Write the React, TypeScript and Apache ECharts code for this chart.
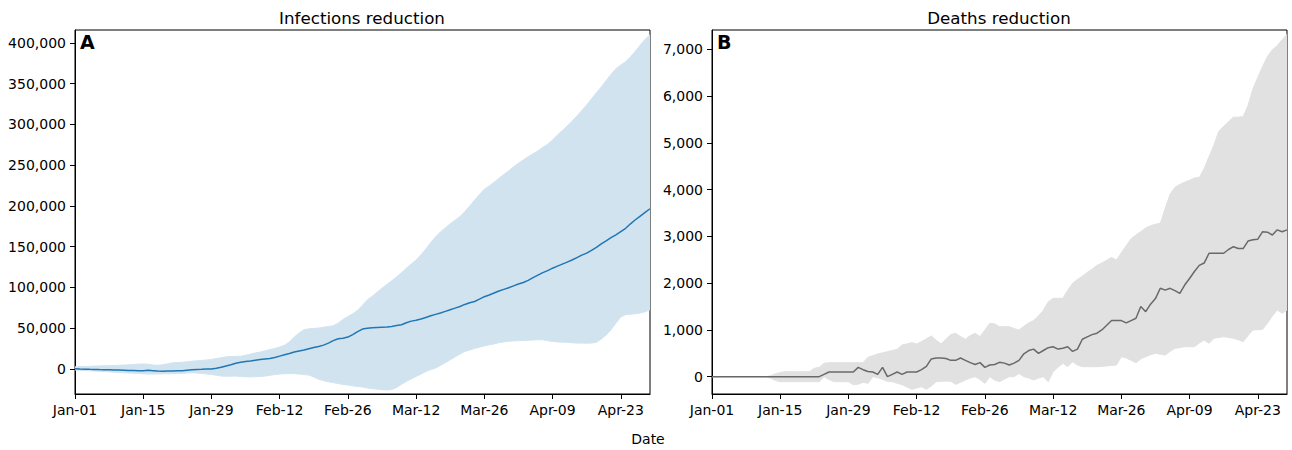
import React, { useEffect, useRef } from "react";
import * as echarts from "echarts";

// ---- categories (non-leap year, Jan-01 .. Apr-29) ----
const MONTH_NAMES = ["Jan", "Feb", "Mar", "Apr"];
const MONTH_LENGTHS = [31, 28, 31, 30];
const N_DAYS = 119;
const dates: string[] = [];
for (let m = 0; m < MONTH_NAMES.length && dates.length < N_DAYS; m++) {
  for (let d = 1; d <= MONTH_LENGTHS[m] && dates.length < N_DAYS; d++) {
    dates.push(`${MONTH_NAMES[m]}-${String(d).padStart(2, "0")}`);
  }
}

// ---- tick labels ----
const infTicks = [0, 50000, 100000, 150000, 200000, 250000, 300000, 350000, 400000];
const deathTicks = [0, 1000, 2000, 3000, 4000, 5000, 6000, 7000];

// ---- Infections reduction (thousands) ----
const infMeanK = [
  0, -0.3, -0.5, -0.7, -0.8, -1.0, -1.1, -1.3, -1.5, -1.6,
  -1.8, -2.0, -2.2, -2.5, -2.3, -1.8, -2.3, -2.9, -3.0, -2.9,
  -2.8, -2.6, -2.4, -1.8, -1.2, -0.9, -0.7, -0.4, -0.2, 0.5,
  1.8, 3.5, 5.0, 6.8, 8.0, 9.0, 9.6, 10.5, 11.3, 12.0,
  12.6, 13.8, 15.5, 17.2, 18.8, 20.5, 21.8, 23.0, 24.5, 26.0,
  27.4, 29.0, 31.5, 34.5, 36.8, 37.5, 38.9, 42.0, 45.5, 48.7,
  49.8, 50.4, 50.7, 51.0, 51.2, 52.0, 53.0, 54.0, 56.5, 58.5,
  59.5, 61.0, 63.0, 65.0, 66.8, 68.5, 70.5, 72.5, 74.5, 76.5,
  79.0, 81.0, 82.6, 85.5, 88.5, 90.5, 93.0, 95.5, 97.5, 99.5,
  101.8, 104.0, 105.9, 108.5, 112.0, 115.0, 118.0, 120.5, 123.5, 126.0,
  128.5, 131.0, 133.5, 136.5, 139.5, 142.0, 145.5, 149.0, 153.4, 157.0,
  161.0, 164.5, 168.5, 172.5, 178.0, 183.0, 187.5, 192.0, 196.5,
];
const infUpperK = [
  2.4, 2.6, 2.8, 3.0, 3.3, 3.5, 3.6, 3.8, 4.0, 4.3,
  4.5, 4.8, 5.2, 5.7, 5.9, 5.6, 4.5, 4.2, 5.0, 6.0,
  7.3, 7.6, 8.0, 8.5, 9.3, 9.8, 10.2, 10.8, 11.4, 12.5,
  13.5, 14.6, 15.0, 15.2, 15.4, 16.5, 18.0, 19.5, 20.5, 22.0,
  23.6, 25.0, 26.8, 28.9, 33.0, 39.0, 44.0, 48.0, 49.0, 49.5,
  50.0, 51.0, 52.0, 52.8, 56.0, 60.5, 64.2, 67.5, 72.0, 78.0,
  84.6, 89.0, 94.0, 99.0, 103.5, 108.0, 113.0, 118.0, 123.5, 128.5,
  133.7, 140.0, 147.0, 155.0, 162.0, 168.0, 173.0, 178.0, 182.5, 186.9,
  193.0, 200.0, 207.0, 214.0, 220.5, 224.5, 229.0, 234.0, 238.5, 243.0,
  248.0, 252.5, 256.5, 260.5, 264.0, 267.5, 272.0, 275.5, 281.0, 287.0,
  292.5, 298.0, 304.0, 310.5, 317.0, 324.0, 331.5, 339.0, 346.0, 354.0,
  361.5, 368.5, 373.0, 377.0, 383.0, 390.0, 397.5, 404.5, 410.0,
];
const infLowerK = [
  -1.6, -1.9, -2.2, -2.5, -2.8, -3.1, -3.4, -3.8, -4.2, -4.6,
  -4.9, -5.2, -5.5, -5.8, -6.2, -6.4, -6.5, -6.4, -6.3, -6.1,
  -6.0, -5.8, -5.5, -5.2, -4.9, -5.2, -5.8, -6.4, -7.0, -8.0,
  -9.0, -9.2, -9.1, -9.0, -9.5, -9.8, -10.0, -9.8, -9.5, -9.0,
  -8.0, -7.2, -6.5, -6.2, -6.0, -6.0, -6.5, -7.2, -7.7, -10.0,
  -13.0, -14.5, -16.0, -17.0, -18.2, -19.2, -20.0, -21.0, -21.8, -22.4,
  -23.7, -24.5, -25.0, -25.8, -26.0, -25.5, -23.0, -19.0, -15.5, -12.5,
  -9.4, -6.5, -3.5, -1.0, 0.8, 4.0, 7.5, 11.0, 14.5, 18.0,
  21.2, 23.0, 25.0, 26.5, 28.0, 29.4, 30.5, 32.0, 33.0, 33.8,
  34.2, 34.5, 34.7, 35.0, 35.3, 35.6, 35.5, 34.5, 33.5, 33.0,
  32.7, 32.5, 32.0, 31.5, 31.5, 31.4, 31.5, 32.5, 36.5, 41.5,
  48.0, 56.0, 63.5, 66.5, 67.0, 67.5, 68.5, 70.0, 72.4,
];

// ---- Deaths reduction ----
const deathMean = [
  0, 0, 0, 0, 0, 0, 0, 0, 0, 0,
  0, 0, 0, 0, 0, 0, 0, 0, 0, 0,
  0, 0, 0, 50, 100, 100, 100, 100, 100, 100,
  200, 150, 110, 100, 50, 200, 0, 50, 100, 50,
  100, 100, 100, 150, 220, 380, 400, 400, 390, 350,
  350, 400, 350, 300, 260, 300, 200, 250, 260, 307,
  290, 250, 290, 350, 490, 560, 590, 500, 560, 620,
  640, 590, 610, 640, 540, 590, 800, 850, 900, 930,
  1000, 1100, 1200, 1200, 1200, 1150, 1200, 1250, 1500, 1390,
  1550, 1670, 1890, 1850, 1890, 1840, 1780, 1960, 2100, 2250,
  2380, 2430, 2640, 2640, 2640, 2640, 2720, 2780, 2740, 2740,
  2900, 2930, 2940, 3100, 3090, 3030, 3140, 3100, 3140,
];
const deathUpper = [
  0, 0, 0, 0, 0, 0, 0, 0, 0, 0,
  0, 0, 20, 60, 90, 107, 107, 107, 107, 107,
  107, 180, 200, 286, 300, 300, 300, 300, 300, 300,
  300, 300, 414, 450, 486, 510, 536, 560, 586, 680,
  700, 729, 700, 750, 810, 871, 780, 700, 800, 900,
  929, 860, 800, 880, 929, 857, 1000, 1141, 1130, 1070,
  1070, 1070, 1030, 998, 1080, 1150, 1200, 1300, 1420, 1600,
  1675, 1675, 1675, 1850, 1996, 2080, 2150, 2230, 2300, 2380,
  2430, 2490, 2550, 2496, 2650, 2800, 2950, 3032, 3100, 3180,
  3230, 3260, 3281, 3600, 3900, 4050, 4110, 4160, 4200, 4250,
  4260, 4450, 4708, 4950, 5250, 5350, 5450, 5549, 5549, 5560,
  5800, 6150, 6400, 6633, 6850, 6990, 7080, 7204, 7320,
];
const deathLower = [
  0, 0, 0, 0, 0, 0, 0, 0, 0, 0,
  0, 0, -30, -80, -107, -107, -107, -107, -107, -107,
  -107, -107, -107, 0, -60, -107, -107, -107, -107, -170,
  -160, -120, -143, 0, -20, -60, -100, -107, -140, -170,
  -220, -271, -240, -214, -271, -200, -107, -100, -93, -100,
  -164, -120, -71, -30, 0, -60, -143, 0, -71, -107,
  -50, 0, 0, 71, 0, -30, -71, -30, 0, -107,
  107, 200, 285, 214, 321, 250, 214, 214, 214, 214,
  220, 230, 240, 250, 428, 400, 350, 300, 380, 428,
  470, 499, 480, 463, 540, 606, 620, 641, 641, 641,
  720, 784, 713, 820, 840, 856, 840, 820, 790, 749,
  880, 998, 1005, 1013, 1150, 1300, 1426, 1355, 1426,
];

const FONT = "DejaVu Sans";
const fmt = (v: number) => Math.round(v).toLocaleString("en-US");

function bandSeries(idx: number, lower: number[], upper: number[], color: string, key: string) {
  const diff = upper.map((u, i) => u - lower[i]);
  return [
    {
      type: "line", xAxisIndex: idx, yAxisIndex: idx, data: lower, stack: key,
      stackStrategy: "all", symbol: "none", silent: true,
      lineStyle: { color, width: 1 }, z: 1,
    },
    {
      type: "line", xAxisIndex: idx, yAxisIndex: idx, data: diff, stack: key,
      stackStrategy: "all", symbol: "none", silent: true,
      lineStyle: { color, width: 1 }, areaStyle: { color, opacity: 1 }, z: 1,
    },
  ];
}

function xAxisFor(i: number) {
  return {
    type: "category", gridIndex: i, data: dates, boundaryGap: false,
    axisLine: { show: true, onZero: false, lineStyle: { color: "#000", width: 1 } },
    axisTick: { show: true, interval: 13, length: 5, lineStyle: { color: "#000" } },
    axisLabel: { interval: 13, margin: 9, color: "#000", fontSize: 14, fontFamily: FONT },
    splitLine: { show: false },
  };
}

function yAxisFor(i: number, min: number, max: number, ticks: number[]) {
  return {
    type: "value", gridIndex: i, min, max,
    axisLine: { show: true, lineStyle: { color: "#000", width: 1 } },
    axisTick: { show: true, length: 5, customValues: ticks, lineStyle: { color: "#000" } },
    axisLabel: { customValues: ticks, formatter: fmt, margin: 9, color: "#000", fontSize: 14, fontFamily: FONT },
    splitLine: { show: false },
  };
}

export default function App() {
  const ref = useRef<HTMLDivElement>(null);
  useEffect(() => {
    if (!ref.current) return;
    const chart = echarts.init(ref.current, undefined, { renderer: "svg" });
    const infMean = infMeanK.map((v) => v * 1000);
    const infLower = infLowerK.map((v) => v * 1000);
    const infUpper = infUpperK.map((v) => v * 1000);
    const option: any = {
      animation: false,
      backgroundColor: "#fff",
      textStyle: { fontFamily: FONT },
      grid: [
        { left: 75, top: 30, width: 575, height: 364, show: true, borderColor: "#000", borderWidth: 1, containLabel: false },
        { left: 712, top: 30, width: 575, height: 364, show: true, borderColor: "#000", borderWidth: 1, containLabel: false },
      ],
      xAxis: [xAxisFor(0), xAxisFor(1)],
      yAxis: [
        yAxisFor(0, -31000, 416000, infTicks),
        yAxisFor(1, -370, 7413, deathTicks),
      ],
      series: [
        ...bandSeries(0, infLower, infUpper, "#d2e3f0", "infBand"),
        {
          type: "line", xAxisIndex: 0, yAxisIndex: 0, data: infMean, symbol: "none",
          lineStyle: { color: "#1f77b4", width: 1.5 }, z: 3,
        },
        ...bandSeries(1, deathLower, deathUpper, "#e1e1e1", "deathBand"),
        {
          type: "line", xAxisIndex: 1, yAxisIndex: 1, data: deathMean, symbol: "none",
          lineStyle: { color: "#696969", width: 1.5 }, z: 3,
        },
      ],
      graphic: [
        { type: "text", x: 362, y: 18, style: { text: "Infections reduction", fontSize: 16.7, fontFamily: FONT, fill: "#000", align: "center", verticalAlign: "middle", textAlign: "center", textVerticalAlign: "middle" } },
        { type: "text", x: 999, y: 18, style: { text: "Deaths reduction", fontSize: 16.7, fontFamily: FONT, fill: "#000", align: "center", verticalAlign: "middle", textAlign: "center", textVerticalAlign: "middle" } },
        { type: "text", x: 80, y: 42, style: { text: "A", fontSize: 19, fontWeight: "bold", fontFamily: FONT, fill: "#000", align: "left", verticalAlign: "middle", textAlign: "left", textVerticalAlign: "middle" } },
        { type: "text", x: 717, y: 42, style: { text: "B", fontSize: 19, fontWeight: "bold", fontFamily: FONT, fill: "#000", align: "left", verticalAlign: "middle", textAlign: "left", textVerticalAlign: "middle" } },
        { type: "text", x: 648, y: 439, style: { text: "Date", fontSize: 14, fontFamily: FONT, fill: "#000", align: "center", verticalAlign: "middle", textAlign: "center", textVerticalAlign: "middle" } },
      ],
    };
    chart.setOption(option);
    return () => chart.dispose();
  }, []);
  return (
    <div
      ref={ref}
      style={{ position: "absolute", left: 0, top: 0, width: 1292, height: 450, background: "#fff" }}
    />
  );
}
